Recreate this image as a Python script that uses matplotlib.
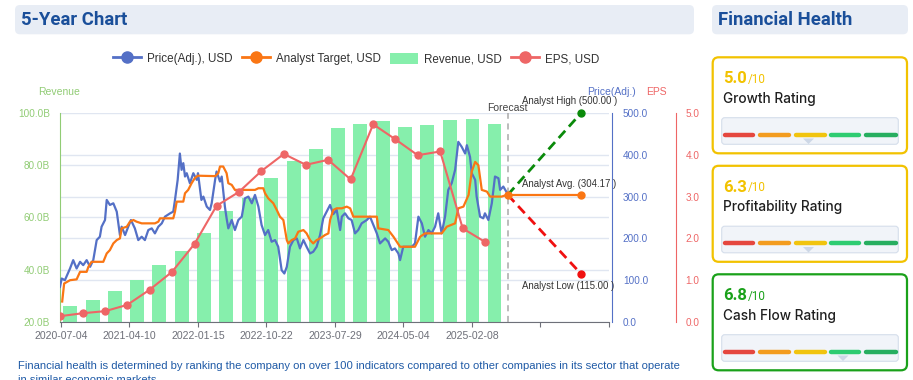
import pandas as pd
import matplotlib
matplotlib.use("Agg")
import matplotlib.pyplot as plt
from matplotlib.lines import Line2D
from matplotlib.patches import Patch, FancyBboxPatch, Polygon

plt.rcParams['font.family'] = ['Liberation Sans', 'DejaVu Sans']

# ---- data (x values are days after 2020-07-04) ----
start = pd.Timestamp('2020-07-04')

price_day = [-4, 3, 16, 37, 50, 64, 78, 91, 105, 119, 132, 146, 159, 166, 180, 187, 200, 214,
             228, 241, 248, 262, 275, 286, 302, 316, 330, 343, 357, 371, 384, 398, 412, 425,
             446, 459, 466, 477, 486, 493, 500, 507, 514, 527, 541, 555, 560, 574, 582, 596,
             609, 616, 630, 636, 650, 657, 670, 677, 684, 698, 711, 725, 739, 752, 766, 780,
             793, 807, 820, 834, 847, 861, 875, 888, 902, 913, 923, 936, 950, 964, 977, 991,
             1004, 1018, 1031, 1045, 1059, 1072, 1086, 1100, 1113, 1127, 1141, 1148, 1161,
             1175, 1188, 1202, 1215, 1229, 1250, 1263, 1277, 1291, 1304, 1325, 1338, 1352,
             1365, 1379, 1386, 1399, 1413, 1434, 1447, 1461, 1475, 1488, 1502, 1515, 1529,
             1542, 1556, 1570, 1583, 1597, 1611, 1624, 1638, 1652, 1659, 1672, 1679, 1693,
             1699, 1713, 1726, 1733, 1747, 1761, 1774, 1788, 1795, 1808, 1822]
price_val = [84, 104, 100, 128, 148, 128, 144, 136, 148, 132, 148, 196, 204, 228, 244, 292, 280, 284,
             264, 208, 228, 208, 228, 244, 224, 196, 204, 196, 220, 224, 212, 228, 236, 252,
             260, 264, 292, 340, 403, 364, 380, 348, 356, 332, 356, 340, 356, 292, 300, 276,
             268, 284, 340, 360, 336, 348, 276, 248, 224, 244, 220, 244, 252, 296, 300, 284,
             304, 276, 232, 208, 220, 192, 196, 180, 124, 116, 132, 180, 196, 200, 176, 196,
             180, 164, 168, 180, 208, 248, 264, 280, 258, 268, 220, 252, 260,
             248, 244, 212, 220, 236, 244, 252, 232, 212, 188, 200, 192, 172,
             176, 164, 148, 180, 180, 180, 188, 252, 236, 204, 220, 212, 228,
             260, 212, 252, 316, 332, 364, 431, 419, 403, 423, 395, 356, 340,
             300, 252, 248, 260, 244, 284, 348, 344, 316, 324, 310]

target_day = [5, 13, 37, 64, 78, 105, 112, 125, 173, 187, 200, 214, 228, 241, 248, 269, 282, 296,
              309, 330, 384, 398, 405, 459, 466, 473, 500, 507, 520, 534, 548, 560, 630, 643,
              650, 663, 677, 684, 698, 711, 793, 807, 827, 834, 847, 868, 882, 895, 909, 923,
              929, 943, 957, 970, 991, 1004, 1018, 1031, 1045, 1059, 1079, 1093, 1100, 1113,
              1127, 1148, 1168, 1182, 1195, 1291, 1297, 1338, 1359, 1386, 1447, 1468, 1488,
              1556, 1577, 1611, 1624, 1645, 1666, 1679, 1693, 1706, 1720, 1741, 1754, 1801, 1822]
target_val = [49, 92, 100, 102, 120, 120, 132, 144, 144, 164, 172, 188, 196, 200, 224, 228, 240, 244,
              240, 236, 236, 240, 248, 248, 264, 288, 288, 308, 316, 332, 345, 350, 349, 356,
              372, 372, 356, 332, 328, 316, 316, 320, 320, 308, 296, 284, 268, 252, 244, 196,
              188, 196, 200, 216, 220, 212, 196, 188, 196, 200, 208, 212, 244, 268,
              272, 272, 276, 272, 252, 252, 224, 220, 204, 180, 180, 204, 212,
              212, 228, 236, 272, 276, 304, 360, 383, 375, 316, 312, 300, 300, 304]

quarters = pd.date_range('2020-07-01', periods=20, freq='QS')
eps_day = [(d - start).days for d in quarters]
eps_val = [0.14, 0.21, 0.26, 0.41, 0.77, 1.20, 1.87, 2.78, 3.11, 3.61,
           4.02, 3.76, 3.88, 3.41, 4.73, 4.37, 3.99, 4.08, 2.24, 1.92]
rev_day = [d + 40 for d in eps_day]
rev_val = [26.1, 28.4, 31.9, 36.1, 41.9, 47.2, 54.1, 62.5, 67.6, 75.1,
           81.6, 86.2, 94.3, 95.8, 96.9, 94.6, 95.4, 97.3, 97.7, 95.8]

forecast_day = 1826
proj_day = 2126
analyst_avg, analyst_high, analyst_low = 304.17, 500.0, 115.0

xtick_days = list(range(0, 2241, 280))
rev_ticks = [20, 40, 60, 80, 100]
price_ticks = [0, 100, 200, 300, 400, 500]
eps_ticks = [0, 1, 2, 3, 4, 5]

ratings = [5.0, 6.3, 6.8]
rating_names = ['Growth Rating', 'Profitability Rating', 'Cash Flow Rating']
rating_band = [2, 2, 3]
rating_colors = ['#f2c200', '#f2c200', '#1aa11a']

C_PRICE, C_TGT, C_REV, C_EPS = '#5470c6', '#fa7614', '#86efac', '#ee6666'
C_REVAX = '#91cc75'
GRID = '#e0e6f1'
UI_FONT = ['Roboto', 'DejaVu Sans']

W, H = 913, 380
fig = plt.figure(figsize=(W / 100, H / 100), dpi=100)
fx = lambda px: px / W
fy = lambda py: 1 - py / H

over = fig.add_axes([0, 0, 1, 1])
over.set_xlim(0, W)
over.set_ylim(H, 0)
over.axis('off')

# headers
for (x0, x1, txt) in [(15, 694, '5-Year Chart'), (712, 908, 'Financial Health')]:
    over.add_patch(FancyBboxPatch((x0, 5), x1 - x0, 29.3, boxstyle='round,pad=0,rounding_size=5',
                                  fc='#e8edf5', ec='none'))
    over.text(x0 + 6, 20, txt, fontsize=13.3, fontweight='bold', color='#1a4f9a',
              va='center', ha='left', family=UI_FONT)

# rating cards
seg_cols = ['#e5473f', '#f39c1f', '#f1c40f', '#2ecc71', '#27ae60']
seg_x = [(725, 753), (760, 789), (796, 825), (831, 859), (866, 896)]
for i, (score, name, band, col) in enumerate(zip(ratings, rating_names, rating_band, rating_colors)):
    dy = i * 108.5
    over.add_patch(FancyBboxPatch((712.7, 57.3 + dy), 194.3, 96, boxstyle='round,pad=0,rounding_size=6',
                                  fc='white', ec=col, lw=1.6))
    over.text(723, 83 + dy, f'{score:.1f}', fontsize=12, fontweight='bold', color=col,
              va='baseline', family=UI_FONT)
    over.text(748, 83 + dy, '/10', fontsize=8.4, color=col, va='baseline', family=UI_FONT)
    over.text(723, 103 + dy, name, fontsize=9.8, color='#1f1f1f', va='baseline',
              fontweight='medium', family=['Inter', 'DejaVu Sans'])
    over.add_patch(FancyBboxPatch((721.7, 117.7 + dy), 176.6, 26.6, boxstyle='round,pad=0,rounding_size=3',
                                  fc='#f1f4f9', ec='#d5deeb', lw=0.8))
    for (a, b), sc in zip(seg_x, seg_cols):
        over.plot([a, b], [134.7 + dy, 134.7 + dy], color=sc, lw=3.2, solid_capstyle='round')
    cx = (seg_x[band][0] + seg_x[band][1]) / 2 - 2
    over.add_patch(Polygon([(cx - 5.5, 138.5 + dy), (cx + 5.5, 138.5 + dy), (cx, 144 + dy)],
                           closed=True, fc='#cdd7e6', ec='none'))

over.text(18, 366, 'Financial health is determined by ranking the company on over 100 indicators '
          'compared to other companies in its sector that operate', fontsize=8.15, color='#1f5aa6', va='center')
over.text(18, 380, 'in similar economic markets.', fontsize=8.15, color='#1f5aa6', va='center')

# axis names
over.text(59, 92, 'Revenue', fontsize=7.5, color=C_REVAX, ha='center', va='center')
over.text(611, 92, 'Price(Adj.)', fontsize=7.5, color=C_PRICE, ha='center', va='center')
over.text(656, 92, 'EPS', fontsize=7.5, color=C_EPS, ha='center', va='center')

# ---- main chart ----
ax = fig.add_axes([fx(59.5), fy(322), fx(609) - fx(59.5), fy(113) - fy(322)])
ax.set_facecolor('none')
ax.bar(rev_day, rev_val, width=57, color=C_REV, zorder=2)
ax.set_ylim(20, 100)
ax.set_yticks(rev_ticks)
ax.set_yticklabels([f'{v:.1f}B' for v in rev_ticks])
ax.set_yticks([20 + p * 80 / 500 for p in price_ticks], minor=True)
ax.grid(which='both', axis='y', color=GRID, lw=1)
ax.set_axisbelow(True)
ax.tick_params(axis='y', which='both', length=0, labelcolor=C_REVAX, labelsize=7.2, pad=7)
ax.set_xlim(-6, 2240)
ax.set_xticks(xtick_days)
ax.set_xticklabels([(start + pd.Timedelta(days=d)).strftime('%Y-%m-%d') if k < 7 else ''
                    for k, d in enumerate(xtick_days)])
ax.tick_params(axis='x', length=3.6, color='#6e7079', labelcolor='#6e7079', labelsize=7.6, pad=3)
for s in ['top', 'right']:
    ax.spines[s].set_visible(False)
ax.spines['left'].set_color(C_REVAX)
ax.spines['bottom'].set_color('#6e7079')
ax.axvline(forecast_day, color='#aaaaaa', lw=1.1, ls=(0, (4, 3)), zorder=3)
ax.annotate('Forecast', xy=(forecast_day, 1), xycoords=('data', 'axes fraction'),
            xytext=(0, 5), textcoords='offset pixels', ha='center', va='center',
            fontsize=7.5, color='#444444')

ax2 = ax.twinx()
ax2.plot(price_day, price_val, color=C_PRICE, lw=1.6, zorder=3)
ax2.plot(target_day, target_val, color=C_TGT, lw=1.6, zorder=4)
ax2.plot([forecast_day, proj_day], [analyst_avg, analyst_high], color='#0a8a0a', lw=2,
         ls=(0, (3.5, 2)), marker='o', ms=5, markevery=[1], clip_on=False, zorder=5)
ax2.plot([forecast_day, proj_day], [analyst_avg, analyst_low], color='#f01010', lw=2,
         ls=(0, (3.5, 2)), marker='o', ms=5, markevery=[1], clip_on=False, zorder=5)
ax2.plot([forecast_day, proj_day], [analyst_avg, analyst_avg], color=C_TGT, lw=1.6,
         marker='o', ms=5, clip_on=False, zorder=6)
ax2.annotate(f'Analyst High ({analyst_high:.2f} )', xy=(proj_day, analyst_high), xytext=(-11, 12),
             textcoords='offset pixels', ha='center', va='center', fontsize=6.9, color='#333333')
ax2.annotate(f'Analyst Avg. ({analyst_avg:.2f} )', xy=(proj_day, analyst_avg), xytext=(-12, 11),
             textcoords='offset pixels', ha='center', va='center', fontsize=6.9, color='#333333')
ax2.annotate(f'Analyst Low ({analyst_low:.2f} )', xy=(proj_day, analyst_low), xytext=(-13, -12),
             textcoords='offset pixels', ha='center', va='center', fontsize=6.9, color='#333333')
ax2.set_ylim(0, 500)
ax2.set_yticks(price_ticks)
ax2.set_yticklabels([f'{v:.1f}' for v in price_ticks])
ax2.tick_params(axis='y', length=0, labelcolor=C_PRICE, labelsize=7.2, pad=8)
for s in ['top', 'left', 'bottom']:
    ax2.spines[s].set_visible(False)
ax2.spines['right'].set_color(C_PRICE)
ax2.spines['right'].set_position(('outward', 2))

ax3 = ax.twinx()
ax3.plot(eps_day, eps_val, color=C_EPS, lw=1.5, marker='o', ms=5, zorder=3)
ax3.set_ylim(0, 5)
ax3.set_yticks(eps_ticks)
ax3.set_yticklabels([f'{v:.1f}' for v in eps_ticks])
ax3.tick_params(axis='y', length=0, labelcolor=C_EPS, labelsize=7.2, pad=7)
for s in ['top', 'left', 'bottom']:
    ax3.spines[s].set_visible(False)
ax3.spines['right'].set_color(C_EPS)
ax3.spines['right'].set_position(('outward', 48))

handles = [Line2D([], [], color=C_PRICE, lw=2, marker='o', ms=8),
           Line2D([], [], color=C_TGT, lw=2, marker='o', ms=8),
           Patch(facecolor=C_REV),
           Line2D([], [], color=C_EPS, lw=2, marker='o', ms=8)]
fig.legend(handles, ['Price(Adj.), USD', 'Analyst Target, USD', 'Revenue, USD', 'EPS, USD'],
           loc='center', bbox_to_anchor=(fx(356), fy(59)), ncol=4, frameon=False,
           fontsize=8.4, handlelength=2.4, handleheight=1.1, handletextpad=0.5,
           columnspacing=0.8, labelcolor='#333333')

fig.savefig('out.png', dpi=100)
